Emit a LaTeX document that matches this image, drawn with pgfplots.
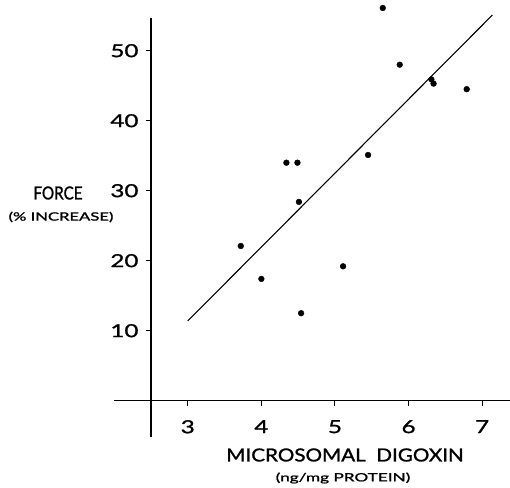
\documentclass[border=0pt]{standalone}
\usepackage{graphicx}
\usepackage{pgfplots}
\pgfplotsset{compat=1.18}
\usepackage{fontspec}
\setmainfont{Lato}[FakeBold=1.2]
\newfontfamily\tickfont{Lato}[FakeBold=1.2, FakeStretch=1.35]
\begin{document}
\begin{tikzpicture}
\useasboundingbox (-151bp,-87.3bp) rectangle (359bp,400.7bp);
\begin{axis}[
  at={(0,0)}, anchor=south west,
  scale only axis,
  width=358bp, height=382.7bp,
  xmin=2.5, xmax=7.365,
  ymin=0, ymax=54.67,
  axis lines=left,
  axis line style={-},
  x axis line style={line width=1.2bp},
  y axis line style={line width=1.8bp},
  clip=false,
  xtick={3,4,5,6,7},
  ytick={10,20,30,40,50},
  xtick align=outside,
  ytick align=outside,
  major tick length=5bp,
  tick style={line width=1bp, black},
  /pgf/number format/assume math mode=true,
  tick label style={font=\tickfont\fontsize{18}{20}\selectfont},
  xticklabel style={yshift=-11bp},
  yticklabel style={xshift=-4bp},
]
\draw[line width=1.2bp] (axis cs:2.0,0) -- (axis cs:7.38,0);
\draw[line width=1.8bp] (axis cs:2.5,0) -- (axis cs:2.5,-5.2);
\addplot[only marks, mark=*, mark size=2.9bp, black] coordinates {
(5.65,56.1) (5.88,48.0) (6.31,45.9) (6.34,45.3) (6.79,44.5)
(4.34,34.0) (4.49,34.0) (4.51,28.4) (5.45,35.1)
(3.72,22.1) (4.00,17.4) (4.54,12.5) (5.11,19.2)
};
\addplot[black, line width=1.1bp] coordinates {(3.0,11.4) (7.14,55.1)};
\end{axis}
\node[font=\fontsize{18}{20}\selectfont] at (194bp,-54.3bp) {\scalebox{1.15}[1]{MICROSOMAL\ \ DIGOXIN}};
\node[font=\fontsize{11.5}{13}\selectfont] at (192bp,-77.3bp) {\scalebox{1.5}[1]{(ng/mg PROTEIN)}};
\node[font=\fontsize{18}{20}\selectfont] at (-93bp,207.7bp) {\scalebox{0.85}[1]{FORCE}};
\node[font=\fontsize{11.5}{13}\selectfont] at (-90bp,183.7bp) {\scalebox{1.45}[1]{(\% INCREASE)}};
\end{tikzpicture}
\end{document}
